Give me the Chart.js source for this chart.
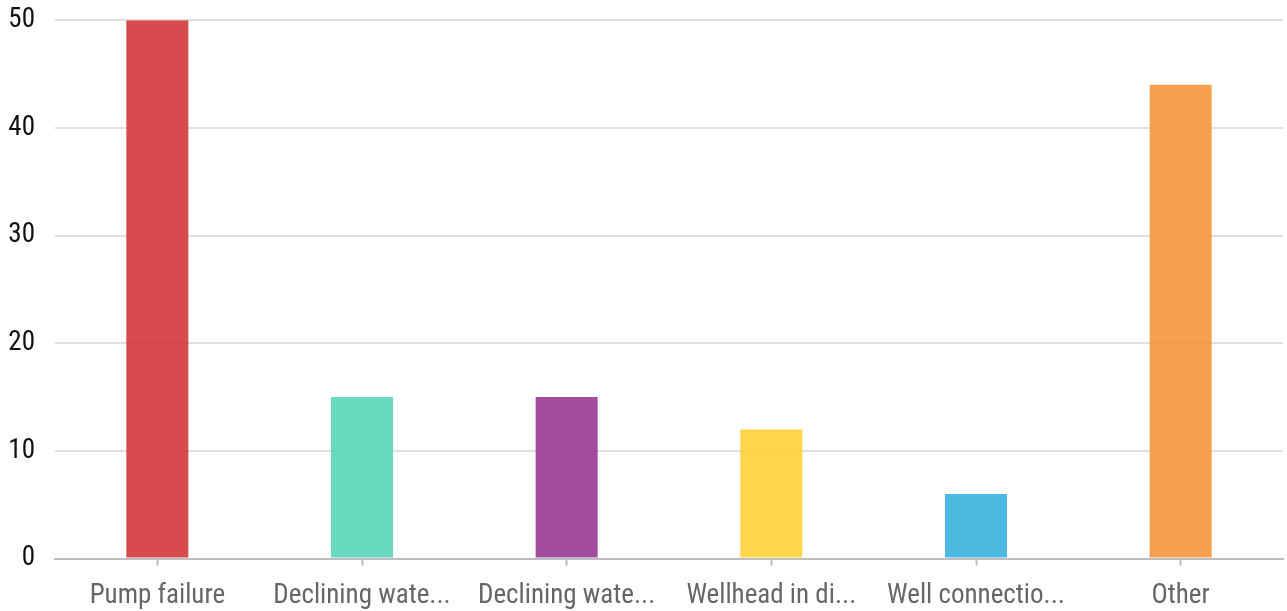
<!DOCTYPE html>
<html lang="en">
  <head>
    <meta charset="UTF-8" />
    <title>bar chart</title>
    <script src="https://cdn.jsdelivr.net/npm/chart.js"></script>
    <style>
      html, body { margin: 0; padding: 0; background: #fff; overflow: hidden; }
      /* chart.js keeps extra room above the top label, so pull the box up a bit */
      .chart-box { position: absolute; left: 0; top: -16px; width: 1287px; height: 642px; }
    </style>
  </head>
  <body>
    <div class="chart-box">
      <canvas id="barChart"></canvas>
    </div>
    <script>
      const categories = ["Pump failure", "Declining wate...", "Declining wate...", "Wellhead in di...", "Well connectio...", "Other"];
      const counts = [50, 15, 15, 12, 6, 44];
      const yTicks = [0, 10, 20, 30, 40, 50];
      const barColors = [
        "rgba(211, 55, 59, 0.9)",
        "rgba(89, 213, 185, 0.9)",
        "rgba(153, 58, 151, 0.9)",
        "rgba(255, 208, 55, 0.9)",
        "rgba(57, 178, 221, 0.9)",
        "rgba(244, 150, 59, 0.9)",
      ];

      // narrow face if the box has one
      const fontFamily = "'Liberation Sans Narrow', 'Arial Narrow', 'Roboto Condensed', 'DejaVu Sans Condensed', 'Liberation Sans', sans-serif";

      const ctx = document.getElementById("barChart").getContext("2d");
      const barChart = new Chart(ctx, {
        type: "bar",
        data: {
          labels: categories,
          datasets: [
            {
              data: counts,
              backgroundColor: barColors,
              borderWidth: 0,
              barPercentage: 0.303,
              categoryPercentage: 1,
            },
          ],
        },
        options: {
          responsive: true,
          maintainAspectRatio: false,
          animation: false,
          layout: { padding: { top: 0, right: 4, left: 4, bottom: 0 } },
          plugins: {
            legend: { display: false },
            tooltip: { enabled: false },
          },
          scales: {
            x: {
              grid: {
                offset: false,
                drawOnChartArea: false,
                drawTicks: true,
                tickLength: 7,
                tickWidth: 2,
                tickColor: "#bdbdbd",
              },
              border: { color: "#bdbdbd", width: 2 },
              ticks: {
                color: "#666",
                font: { family: fontFamily, size: 27 },
                padding: 14,
                maxRotation: 0,
                autoSkip: false,
              },
            },
            y: {
              min: 0,
              max: 50,
              afterBuildTicks: (axis) => {
                axis.ticks = yTicks.map((v) => ({ value: v }));
              },
              afterFit: (axis) => {
                axis.width = 51;
              },
              grid: {
                color: "#e0e0e0",
                lineWidth: 2,
                drawTicks: false,
              },
              border: { display: false },
              ticks: {
                color: "#111",
                font: { family: fontFamily, size: 27 },
                padding: 20,
              },
            },
          },
        },
      });
    </script>
  </body>
</html>
